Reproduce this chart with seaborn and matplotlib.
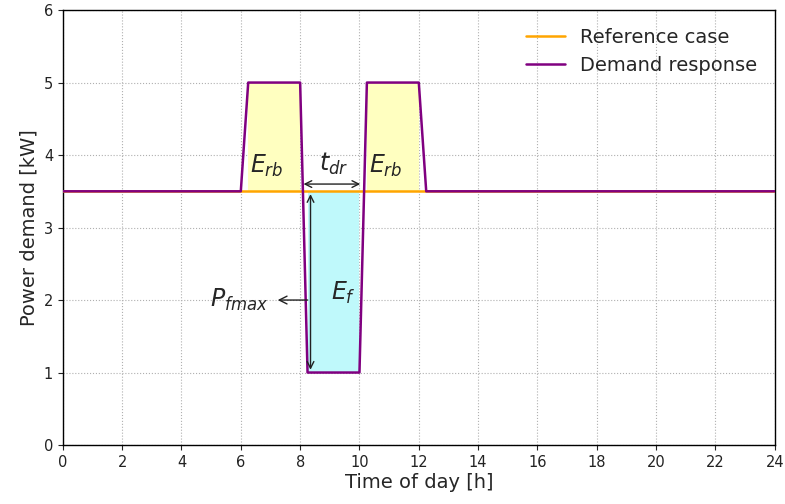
import matplotlib
matplotlib.use("Agg")
import matplotlib.pyplot as plt
import seaborn as sns
import pandas as pd

time_ref = [0, 24]
power_ref = [3.5, 3.5]
time_dr = [0, 6, 6.25, 8, 8.25, 10, 10.25, 12, 12.25, 24]
power_dr = [3.5, 3.5, 5, 5, 1, 1, 5, 5, 3.5, 3.5]

sns.set_style("ticks")
fig = plt.figure(figsize=(7.85, 5.04), dpi=100)
ax = fig.add_axes([0.080, 0.117, 0.907, 0.863])

# fills
ax.fill_between([6.25, 8], 3.5, 5, color="#ffffc0", linewidth=0, zorder=1)
ax.fill_between([10.25, 12], 3.5, 5, color="#ffffc0", linewidth=0, zorder=1)
ax.fill_between([8.25, 10], 1, 3.5, color="#bff9fb", linewidth=0, zorder=1)

df_ref = pd.DataFrame({"t": time_ref, "p": power_ref})
df_dr = pd.DataFrame({"t": time_dr, "p": power_dr})
sns.lineplot(data=df_ref, x="t", y="p", ax=ax, color="orange", lw=1.8,
             label="Reference case", zorder=3)
sns.lineplot(data=df_dr, x="t", y="p", ax=ax, color="purple", lw=1.8,
             label="Demand response", zorder=4)

ax.set_xlim(0, 24)
ax.set_ylim(0, 6)
ax.set_xticks(range(0, 25, 2))
ax.set_yticks(range(0, 7))
ax.grid(True, linestyle=":", color="#b0b0b0", linewidth=0.8)
for s in ax.spines.values():
    s.set_color("black")
    s.set_linewidth(1.0)
ax.tick_params(labelsize=10.5, colors="#222222", direction="out", length=3.5)
ax.set_xlabel("Time of day [h]", fontsize=14, labelpad=2)
ax.set_ylabel("Power demand [kW]", fontsize=14, labelpad=4)

leg = ax.legend(loc="upper right", frameon=False, fontsize=14)

# annotations
arrow = dict(arrowstyle="<->", color="#222222", lw=1.0, mutation_scale=12)
ax.annotate("", xy=(8.02, 3.6), xytext=(10.12, 3.6), arrowprops=arrow, zorder=5)
ax.annotate("", xy=(8.35, 3.5), xytext=(8.35, 1.0), arrowprops=arrow, zorder=5)
ax.annotate("", xy=(7.15, 2.0), xytext=(8.35, 2.0),
            arrowprops=dict(arrowstyle="->", color="#222222", lw=1.0, mutation_scale=14), zorder=5)

tk = dict(fontsize=17, ha="center", va="center", zorder=6)
ax.text(6.88, 3.85, r"$E_{rb}$", **tk)
ax.text(10.9, 3.85, r"$E_{rb}$", **tk)
ax.text(9.12, 3.88, r"$t_{dr}$", **tk)
ax.text(9.45, 2.1, r"$E_f$", **tk)
ax.text(5.95, 2.0, r"$P_{fmax}$", **tk)

fig.savefig("out.png", dpi=100)
